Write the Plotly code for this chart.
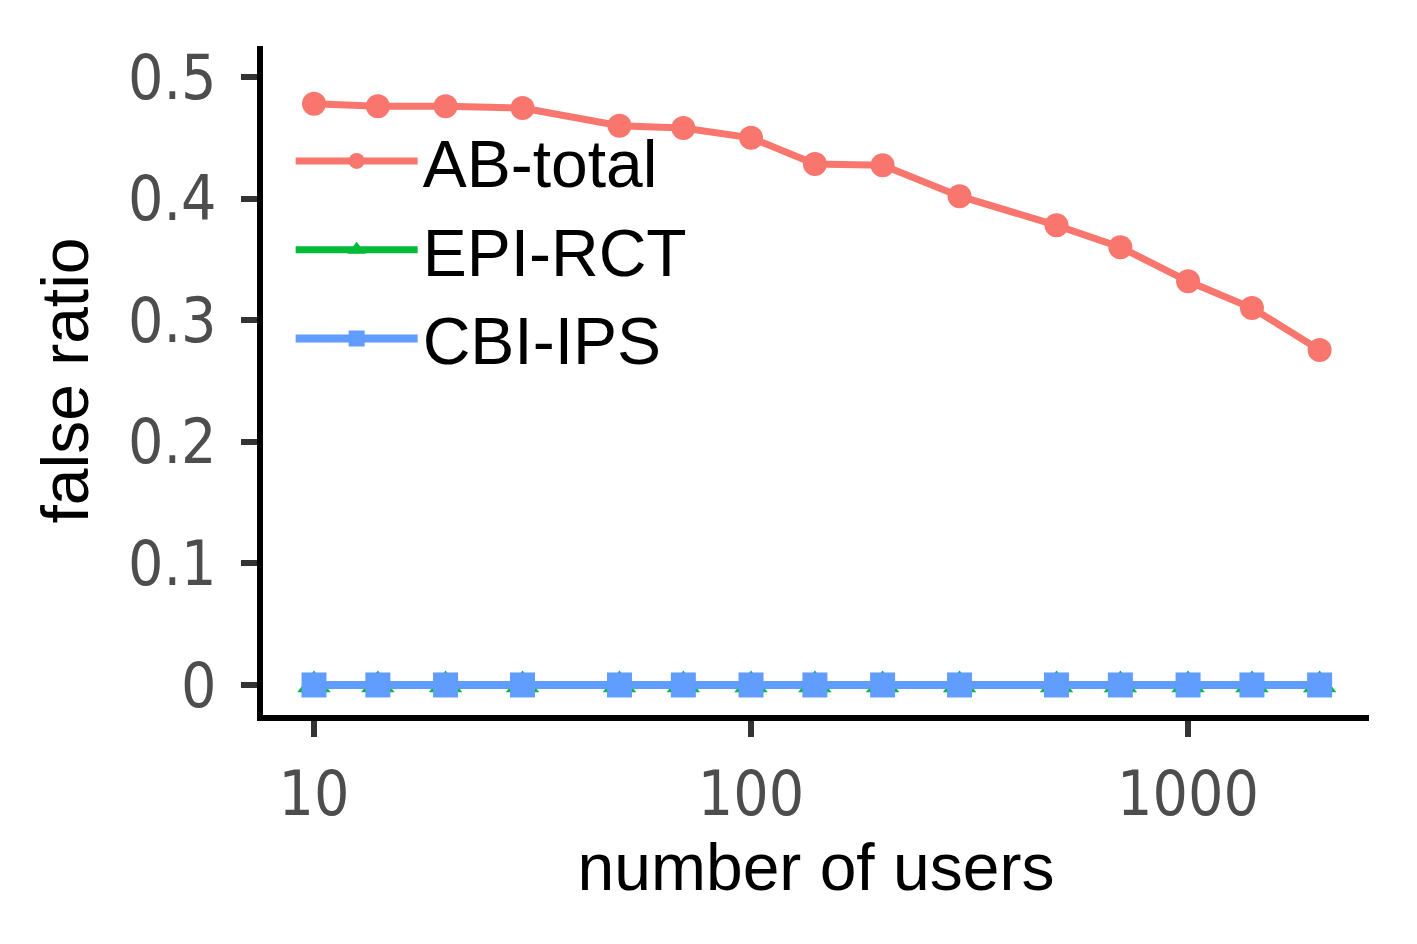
import plotly.graph_objects as go

# number of users (x) and false ratio per method (y)
users = [10, 14, 20, 30, 50, 70, 100, 140, 200, 300, 500, 700, 1000, 1400, 2000]
ab_total = [0.478, 0.476, 0.476, 0.4745, 0.460, 0.458, 0.450, 0.4285, 0.4275,
            0.402, 0.378, 0.360, 0.332, 0.310, 0.2755]
epi_rct = [0.0] * len(users)
cbi_ips = [0.0] * len(users)

y_ticks = [0, 0.1, 0.2, 0.3, 0.4, 0.5]
y_ticktext = ['0', '0.1', '0.2', '0.3', '0.4', '0.5']
x_ticks = [10, 100, 1000]

tick_font = dict(family='DejaVu Sans Condensed, Liberation Sans', size=62, color='#4D4D4D')

fig = go.Figure()

fig.add_trace(go.Scatter(
    x=users, y=ab_total, name='AB-total', mode='lines+markers',
    line=dict(color='#F8766D', width=7),
    marker=dict(symbol='circle', size=24, color='#F8766D')
))
fig.add_trace(go.Scatter(
    x=users, y=epi_rct, name='EPI-RCT', mode='lines+markers',
    line=dict(color='#00BA38', width=7),
    marker=dict(symbol='triangle-up', size=29, color='#00BA38')
))
fig.add_trace(go.Scatter(
    x=users, y=cbi_ips, name='CBI-IPS', mode='lines+markers',
    line=dict(color='#619CFF', width=8),
    marker=dict(symbol='square', size=25, color='#619CFF')
))

fig.update_layout(
    width=1417, height=944,
    margin=dict(l=255, r=56, t=38, b=237),
    plot_bgcolor='white', paper_bgcolor='white',
    font=dict(family='Liberation Sans', size=66, color='black'),
    showlegend=True,
    legend=dict(
        x=0.025, y=0.902, xanchor='left', yanchor='top',
        bgcolor='rgba(0,0,0,0)', font=dict(size=66, color='black'),
        tracegroupgap=0, itemwidth=122
    ),
    xaxis=dict(
        type='log', range=[0.8833, 3.414],
        tickvals=x_ticks, ticktext=['10', '100', '1000'],
        showgrid=False, zeroline=False,
        showline=True, linecolor='black', linewidth=6,
        ticks='outside', ticklen=16, tickwidth=6, tickcolor='#333333',
        tickfont=tick_font, ticklabelstandoff=4,
        title=dict(text='number of users', font=dict(size=66, color='black'), standoff=8)
    ),
    yaxis=dict(
        range=[-0.0247, 0.5255],
        tickvals=y_ticks, ticktext=y_ticktext,
        showgrid=False, zeroline=False,
        showline=True, linecolor='black', linewidth=6,
        ticks='outside', ticklen=16, tickwidth=6, tickcolor='#333333',
        tickfont=tick_font, ticklabelstandoff=12,
        title=dict(text='false ratio', font=dict(size=66, color='black'), standoff=20)
    )
)

fig.write_html("out.html")
